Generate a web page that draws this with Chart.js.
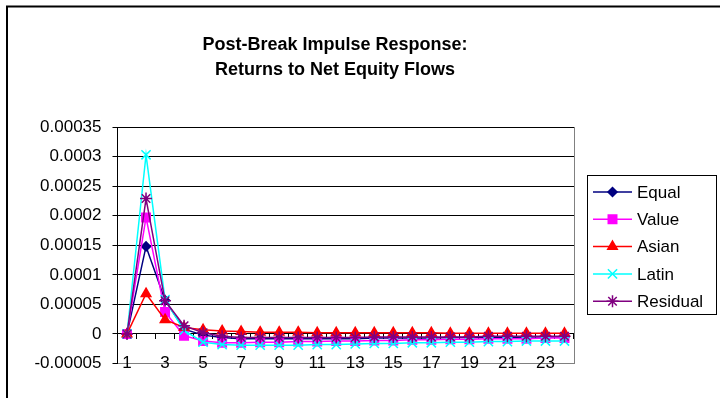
<!DOCTYPE html>
<html>
<head>
<meta charset="utf-8">
<script src="https://cdn.jsdelivr.net/npm/chart.js"></script>
<style>
    html, body { margin: 0; padding: 0; background: #fff; }
    #chart { display: block; }
</style>
</head>
<body>
<canvas id="chart" width="720" height="398"></canvas>
<script>
const periods = ['1', '2', '3', '4', '5', '6', '7', '8', '9', '10', '11', '12',
    '13', '14', '15', '16', '17', '18', '19', '20', '21', '22', '23', '24'];

const equal = [0, 0.000148, 0.000057, 0.000008, -0.000002, -0.000006, -0.000008, -0.000008,
    -0.000008, -0.000008, -0.000008, -0.000008, -0.000008, -0.000007, -0.000007, -0.000007,
    -0.000007, -0.000006, -0.000006, -0.000006, -0.000006, -0.000005, -0.000005, -0.000005];
const value = [0, 0.000197, 0.000037, -0.000003, -0.000012, -0.000015, -0.000015, -0.000014,
    -0.000014, -0.000013, -0.000013, -0.000012, -0.000012, -0.000011, -0.000011, -0.000010,
    -0.000010, -0.000009, -0.000009, -0.000008, -0.000008, -0.000008, -0.000007, -0.000007];
const asian = [0, 0.000068, 0.000024, 0.000011, 0.000007, 0.000005, 0.000004, 0.000003,
    0.000003, 0.000003, 0.000002, 0.000002, 0.000002, 0.000002, 0.000002, 0.000002,
    0.000002, 0.000001, 0.000001, 0.000001, 0.000001, 0.000001, 0.000001, 0.000001];
const latin = [0, 0.000303, 0.000058, 0.000006, -0.000014, -0.000018, -0.000019, -0.000019,
    -0.000019, -0.000019, -0.000018, -0.000018, -0.000017, -0.000016, -0.000016, -0.000015,
    -0.000015, -0.000014, -0.000014, -0.000013, -0.000013, -0.000012, -0.000012, -0.000012];
const residual = [0, 0.000229, 0.000056, 0.000014, 0.000002, -0.000004, -0.000006, -0.000006,
    -0.000006, -0.000006, -0.000006, -0.000006, -0.000006, -0.000005, -0.000005, -0.000005,
    -0.000005, -0.000005, -0.000005, -0.000004, -0.000004, -0.000004, -0.000004, -0.000004];

const titleLines = ['Post-Break Impulse Response:', 'Returns to Net Equity Flows'];
const yMin = -0.00005;
const yMax = 0.00035;
const yStep = 0.00005;

const FONT = "'Liberation Sans', Arial, sans-serif";

const makeSeries = (label, data, color, pointStyle, radius, order) => ({
    label: label,
    data: data,
    borderColor: color,
    backgroundColor: color,
    borderWidth: 1.5,
    pointStyle: pointStyle,
    pointRadius: radius,
    pointBorderWidth: 1.5,
    pointBorderColor: color,
    pointBackgroundColor: color,
    tension: 0,
    order: order,
});

// frame, title, plot border and legend are drawn here
const excelDecor = {
    id: 'excelDecor',
    beforeDatasetsDraw(chart) {
        const {ctx, chartArea} = chart;
        ctx.save();
        ctx.strokeStyle = '#808080';
        ctx.lineWidth = 1;
        ctx.beginPath();
        ctx.moveTo(Math.round(chartArea.right) + 0.5, chartArea.top);
        ctx.lineTo(Math.round(chartArea.right) + 0.5, chartArea.bottom);
        ctx.stroke();
        ctx.restore();
    },
    afterDraw(chart) {
        const {ctx} = chart;
        ctx.save();

        ctx.strokeStyle = '#000';
        ctx.lineWidth = 2;
        ctx.beginPath();
        ctx.moveTo(7, 398);
        ctx.lineTo(7, 6.5);
        ctx.lineTo(720, 6.5);
        ctx.stroke();

        ctx.fillStyle = '#000';
        ctx.font = `bold 18px ${FONT}`;
        ctx.textAlign = 'center';
        ctx.textBaseline = 'middle';
        titleLines.forEach((line, i) => ctx.fillText(line, 335, 45 + i * 25));

        // legend
        const box = {left: 587, top: 175, right: 716, bottom: 314};
        ctx.lineWidth = 1;
        ctx.strokeStyle = '#000';
        ctx.strokeRect(box.left + 0.5, box.top + 0.5, box.right - box.left, box.bottom - box.top);
        ctx.font = `17px ${FONT}`;
        ctx.textAlign = 'left';
        chart.data.datasets.forEach((ds, i) => {
            const y = 192 + i * 27.3;
            ctx.strokeStyle = ds.borderColor;
            ctx.lineWidth = 1.5;
            ctx.beginPath();
            ctx.moveTo(593, y);
            ctx.lineTo(632, y);
            ctx.stroke();
            ctx.fillStyle = ds.borderColor;
            Chart.helpers.drawPoint(ctx, {
                pointStyle: ds.pointStyle,
                radius: ds.pointRadius,
                borderWidth: 1.5,
                rotation: 0,
            }, 612.5, y);
            ctx.fillStyle = '#000';
            ctx.fillText(ds.label, 637, y + 1);
        });
        ctx.restore();
    }
};

const config = {
    type: 'line',
    data: {
        labels: periods,
        datasets: [
            makeSeries('Equal', equal, '#000080', 'rectRot', 4.5, 5),
            makeSeries('Value', value, '#FF00FF', 'rect', 6, 4),
            makeSeries('Asian', asian, '#FF0000', 'triangle', 5.5, 3),
            makeSeries('Latin', latin, '#00FFFF', 'crossRot', 6.5, 2),
            makeSeries('Residual', residual, '#800080', 'star', 6, 1),
        ]
    },
    options: {
        responsive: false,
        animation: false,
        devicePixelRatio: 1,
        layout: {
            padding: {top: 127, right: 146, bottom: 0, left: 0}
        },
        plugins: {
            legend: {display: false},
            title: {display: false},
            tooltip: {enabled: false},
        },
        scales: {
            x: {
                type: 'category',
                position: 'bottom',
                offset: true,
                grid: {display: false},
                border: {color: '#808080', width: 1},
                ticks: {
                    autoSkip: false,
                    maxRotation: 0,
                    mirror: true, // lets the labels sit across the plot's bottom edge, as in Excel
                    padding: -10.5,
                    color: '#000',
                    font: {family: FONT, size: 17},
                    callback: (v, i) => (i % 2 === 0 ? periods[i] : ''),
                },
                afterFit: (scale) => { scale.height = 34.5; },
            },
            x0: {
                type: 'category',
                position: {y: 0},
                offset: true,
                grid: {
                    display: true,
                    offset: true,
                    drawOnChartArea: false,
                    drawTicks: true,
                    tickLength: 5,
                    color: '#000',
                },
                border: {color: '#000', width: 1},
                ticks: {display: false},
            },
            y: {
                min: yMin,
                max: yMax,
                grid: {
                    color: '#000',
                    tickColor: '#000',
                    tickLength: 5,
                    lineWidth: 1,
                },
                border: {color: '#000', width: 1},
                ticks: {
                    stepSize: yStep,
                    padding: 11,
                    color: '#000',
                    font: {family: FONT, size: 17},
                    callback: (v) => {
                        const n = parseFloat(Number(v).toFixed(6));
                        return n === 0 ? '0' : String(n);
                    },
                },
                afterFit: (scale) => { scale.width = 117.5; },
            }
        }
    },
    plugins: [excelDecor]
};

new Chart(document.getElementById('chart'), config);
</script>
</body>
</html>
